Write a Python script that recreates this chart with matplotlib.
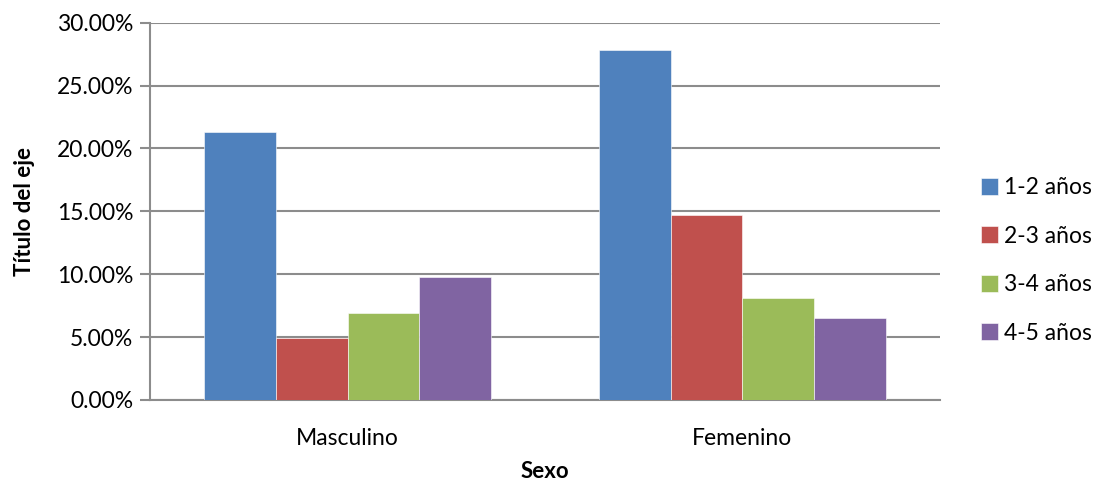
import numpy as np
import matplotlib.pyplot as plt
from matplotlib.ticker import FuncFormatter

# porcentajes por sexo y grupo de edad
sexos = ['Masculino', 'Femenino']
grupos = ['1-2 años', '2-3 años', '3-4 años', '4-5 años']
val_1_2 = [21.28, 27.80]
val_2_3 = [4.90, 14.71]
val_3_4 = [6.89, 8.08]
val_4_5 = [9.78, 6.50]
colores = ['#4F81BD', '#C0504D', '#9BBB59', '#8064A2']

plt.rcParams['font.family'] = ['Lato', 'DejaVu Sans']

fig = plt.figure(figsize=(10.99, 4.84), dpi=100)
ax = fig.add_axes([0.1365, 0.1736, 0.7188, 0.7794])

x = np.arange(len(sexos))
width = 0.182
series = [val_1_2, val_2_3, val_3_4, val_4_5]
for i, (vals, col, lab) in enumerate(zip(series, colores, grupos)):
    ax.bar(x + (i - 1.5) * width, vals, width, color=col, label=lab,
           edgecolor='white', linewidth=0.4, zorder=3)

ax.set_xlim(-0.5, 1.5)
ax.set_ylim(0, 30)
ax.set_yticks(np.arange(0, 31, 5))
ax.yaxis.set_major_formatter(FuncFormatter(lambda v, p: '%.2f%%' % v))
ax.set_xticks(x)
ax.set_xticklabels(sexos)

ax.grid(axis='y', color='#8c8c8c', linewidth=1.5, zorder=0)
for s in ['top', 'right']:
    ax.spines[s].set_visible(False)
ax.spines['left'].set_color('#8c8c8c')
ax.spines['left'].set_linewidth(1.5)
ax.spines['bottom'].set_color('#8c8c8c')
ax.spines['bottom'].set_linewidth(1.5)
ax.tick_params(axis='y', length=7, width=1.5, color='#8c8c8c', labelsize=16.5, pad=5)
ax.tick_params(axis='x', length=0, labelsize=16.5, pad=20)

ax.set_ylabel('Título del eje', fontsize=16, fontweight='bold', labelpad=16)
ax.set_xlabel('Sexo', fontsize=16, fontweight='bold', labelpad=9)

ax.legend(loc='center left', bbox_to_anchor=(1.04, 0.37), frameon=False,
          fontsize=16.5, handlelength=0.75, handleheight=0.75,
          handletextpad=0.25, labelspacing=1.2, borderaxespad=0)

fig.savefig('out.png', dpi=100)
